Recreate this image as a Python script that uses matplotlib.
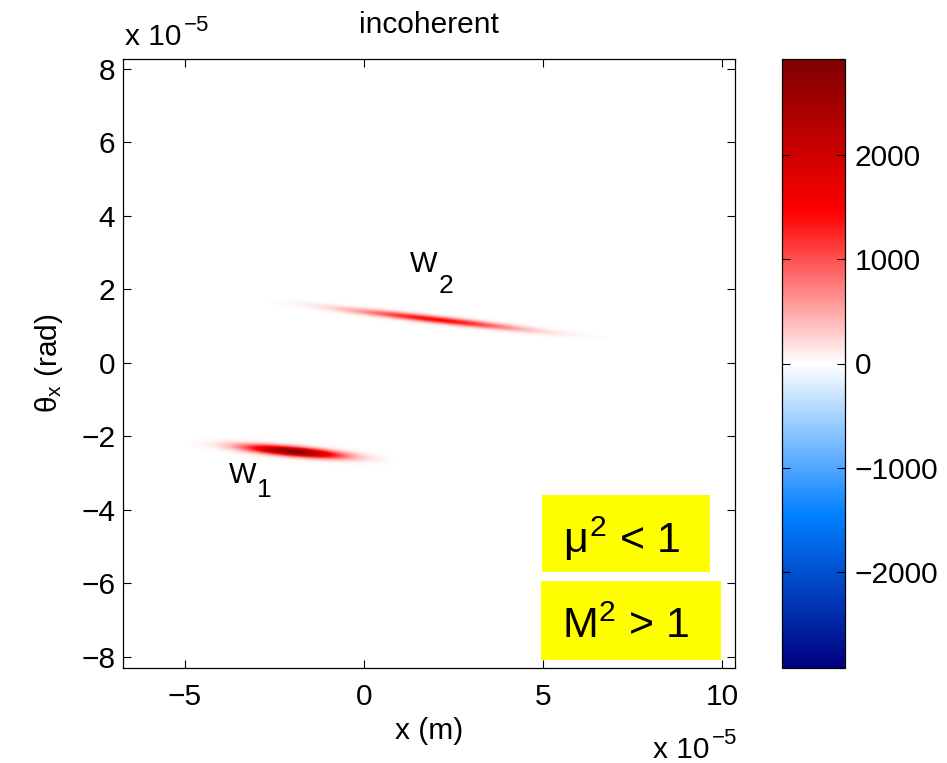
import numpy as np
import matplotlib
matplotlib.use('Agg')
import matplotlib.pyplot as plt
from matplotlib.colors import LinearSegmentedColormap
from matplotlib.patches import Rectangle

plt.rcParams['font.family'] = ['Liberation Sans', 'DejaVu Sans']
plt.rcParams['mathtext.fontset'] = 'custom'
plt.rcParams['mathtext.rm'] = 'Liberation Sans'
plt.rcParams['mathtext.it'] = 'Liberation Sans'
plt.rcParams['mathtext.bf'] = 'Liberation Sans:bold'

# Wigner function blobs, x and theta in units of 1e-5
blob_names = ['1', '2']
blob_x0 = [-1.98, 2.0]
blob_y0 = [-2.41, 1.18]
blob_amp = [2920, 1450]
blob_sx = [0.9, 1.55]        # width along x
blob_sv = [0.085, 0.065]     # thickness across the ellipse
blob_slope = [-0.084, -0.108]

# label spots for W_1, W_2 (W letter, subscript)
label_w = [(-3.39, -3.06), (1.66, 2.69)]
label_sub = [(-2.79, -3.47), (2.30, 2.10)]

x_lim = [-6.73, 10.36]
y_lim = [-8.3, 8.27]
x_ticks = [-5, 0, 5, 10]
y_ticks = [-8, -6, -4, -2, 0, 2, 4, 6, 8]
c_lim = 2920
c_ticks = [-2000, -1000, 0, 1000, 2000]

cmap = LinearSegmentedColormap.from_list('bwr2', [
    (0.0, (0, 0, 0.5)),
    (0.25, (0, 0.5, 1)),
    (0.5, (1, 1, 1)),
    (0.75, (1, 0, 0)),
    (1.0, (0.5, 0, 0))], N=257)

fig = plt.figure(figsize=(9.47, 7.63), dpi=100)
W_, H_ = 947.0, 763.0
ax = fig.add_axes([123 / W_, 1 - 668 / H_, 612 / W_, 609 / H_])

x = np.linspace(x_lim[0], x_lim[1], 1600)
y = np.linspace(y_lim[0], y_lim[1], 1600)
X, Y = np.meshgrid(x, y)
Wig = np.zeros_like(X)
for x0, y0, a, sx, sv, k in zip(blob_x0, blob_y0, blob_amp, blob_sx, blob_sv, blob_slope):
    Wig += a * np.exp(-(X - x0) ** 2 / (2 * sx ** 2) - (Y - y0 - k * (X - x0)) ** 2 / (2 * sv ** 2))

im = ax.imshow(Wig, extent=[x_lim[0], x_lim[1], y_lim[0], y_lim[1]], origin='lower',
               cmap=cmap, vmin=-c_lim, vmax=c_lim, aspect='auto', interpolation='bilinear')
ax.set_xlim(x_lim)
ax.set_ylim(y_lim)
ax.set_xticks(x_ticks)
ax.set_yticks(y_ticks)
ax.tick_params(direction='in', top=True, right=True, length=5.5, width=0.8, labelsize=21.5)
ax.tick_params(axis='x', pad=11)
ax.tick_params(axis='y', pad=5.5)
for s in ax.spines.values():
    s.set_linewidth(0.9)

ax.set_xlabel('x (m)', fontsize=21.5, labelpad=4)
ax.set_ylabel(r'$\theta_x$ (rad)', fontsize=21.5, labelpad=12)

# W labels
for name, (wx, wy), (sx_, sy_) in zip(blob_names, label_w, label_sub):
    ax.text(wx, wy, 'W', fontsize=21, ha='center', va='center')
    ax.text(sx_, sy_, name, fontsize=19, ha='center', va='center')

# yellow boxes
ax.add_patch(Rectangle((4.97, -5.69), 9.65 - 4.97, 5.69 - 3.58, facecolor='#ffff00',
                       edgecolor='none', zorder=3))
ax.add_patch(Rectangle((4.94, -8.07), 9.97 - 4.94, 8.07 - 5.94, facecolor='#ffff00',
                       edgecolor='none', zorder=3))
ax.text(5.56, -5.16, r'$\mu^2$ < 1', fontsize=31, ha='left', va='baseline', zorder=4)
ax.text(5.52, -7.48, r'M$^2$ > 1', fontsize=31, ha='left', va='baseline', zorder=4)

# title and exponent labels
fig.text(429 / W_, 1 - 33 / H_, 'incoherent', fontsize=21.5, ha='center', va='baseline')
fig.text(125 / W_, 1 - 45 / H_, 'x 10', fontsize=21.5, ha='left', va='baseline')
fig.text(184 / W_, 1 - 31 / H_, '\u22125', fontsize=16, ha='left', va='baseline')
fig.text(653 / W_, 1 - 758 / H_, 'x 10', fontsize=21.5, ha='left', va='baseline')
fig.text(712 / W_, 1 - 744 / H_, '\u22125', fontsize=16, ha='left', va='baseline')

# colorbar
cax = fig.add_axes([782 / W_, 1 - 668 / H_, 63 / W_, 609 / H_])
cb = fig.colorbar(im, cax=cax, ticks=c_ticks)
cb.outline.set_linewidth(0.9)
cax.tick_params(direction='in', left=True, right=True, length=5.5, width=0.8,
                labelsize=21.5, pad=7)

fig.savefig('out.png', dpi=100)
